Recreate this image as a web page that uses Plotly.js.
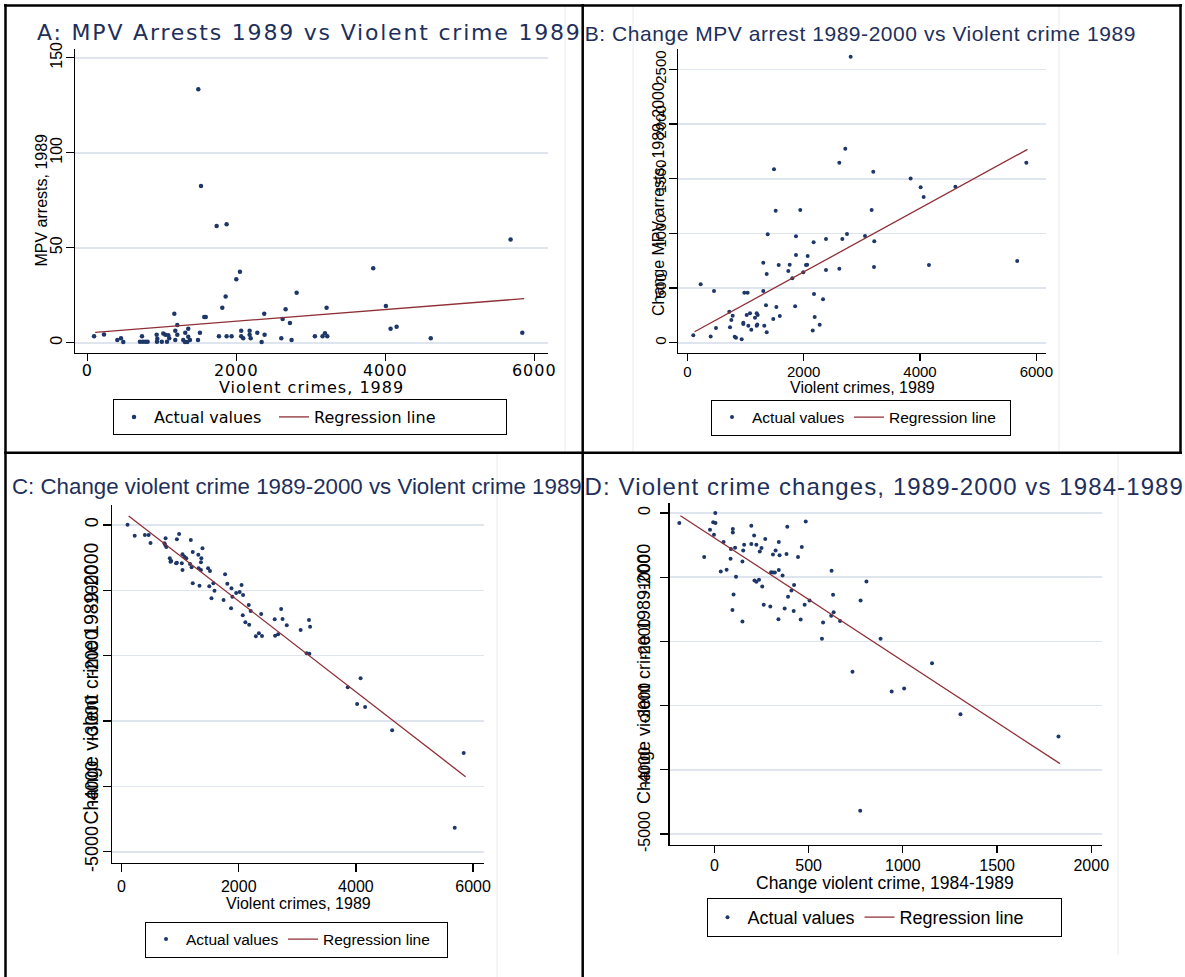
<!DOCTYPE html>
<html><head><meta charset="utf-8">
<script src="https://cdn.plot.ly/plotly-3.0.1.min.js"></script>
<style>
html,body{margin:0;padding:0;background:#fff;}
#chart{width:1185px;height:977px;}
g.annotation[data-index="0"] text{letter-spacing:1.8px;}
g.annotation[data-index="1"] text{letter-spacing:0.55px;}
g.annotation[data-index="3"] text{letter-spacing:1.1px;}
g.annotation[data-index="8"] text{letter-spacing:1px;}
g.xtick text{letter-spacing:1px;}
</style>
</head><body><div id="chart"></div>
<script>
// ---------- Panel A: MPV arrests 1989 vs violent crimes 1989 ----------
const aViolent89 = [1490,1526,1736,1870,3838,2049,2000,2810,1857,1812,3212,4008,1168,2375,1570,1590,2662,2622,2720,1208,1355,4071,4152,91,224,403,452,483,734,707,745,780,810,931,940,935,1000,1070,1020,1047,1087,1100,1181,1181,1208,1288,1311,1342,1378,1315,1355,1486,1512,1767,1870,1937,2066,2066,2093,2179,2179,2193,2282,2340,2380,2604,2742,3055,3158,3190,3221,4610,5682,5839];
const aArrests89 = [133.4,82.5,61.4,62.3,39.2,37.4,33.4,26.3,24.4,18.4,18.4,19.3,15.3,15.3,13.5,13.5,17.6,12.5,10.4,9.3,7.4,7.4,8.4,3.4,4.4,1.4,2.3,0.4,3.4,0.5,0.5,0.5,0.5,4.2,2.1,0.5,0.5,0.5,4.9,4.2,3.9,2.3,6.3,1.4,4.2,1.4,0.4,0.4,1.4,5.3,3.2,1.4,5.3,3.4,3.4,3.4,6.3,3.4,2.3,6.3,4.2,2.3,5.3,0.4,4.2,2.3,1.4,3.4,3.4,5.0,3.4,2.3,54.4,5.3];
const aRegX = [106, 5864];
const aRegY = [5.5, 23.2];

// ---------- Panel B: change MPV arrests 1989-2000 vs violent crimes 1989 ----------
const bViolent89 = [2808,2716,2613,1490,3197,3839,4011,4063,4608,5828,1519,1942,3169,1382,1868,2745,3055,2384,2665,2172,3214,1868,2069,1306,1571,1760,2040,2060,1736,1994,2384,2613,3209,4154,5671,1365,1805,230,459,980,1037,1306,2178,2333,722,780,1021,1078,1193,1164,1210,1353,1531,1854,1590,1478,757,734,493,963,963,1049,1193,1203,1100,1324,1365,2190,2276,2156,103,402,815,837,935];
const bArrestChange = [2615,1774,1646,1586,1564,1503,1421,1332,1426,1646,1207,1213,1213,991,973,994,976,948,948,918,927,802,793,732,711,713,711,713,656,644,665,677,692,711,747,628,589,534,473,457,457,473,445,397,284,247,253,269,269,229,253,342,326,333,244,217,208,141,134,183,171,155,155,168,119,155,95,235,165,113,68,58,55,46,31];
const bRegX = [125, 5848];
const bRegY = [101, 1768];

// ---------- Panel C: change violent crime 1989-2000 vs violent crimes 1989 ----------
const cViolent89 = [102,224,398,462,494,732,764,745,751,944,982,823,848,835,931,944,1028,1040,1073,1105,1040,1169,1182,1215,1195,1215,1310,1362,1355,1381,1355,1316,1477,1509,1330,1497,1567,1586,1535,1767,1805,1876,1869,1741,1891,1956,2016,2048,2074,2069,2113,2171,2178,2204,2293,2344,2383,2397,2614,2621,2672,2724,2748,2820,3057,3199,3218,3160,3206,3861,4080,4021,4157,4619,5840,5687];
const cCrimeChange = [5,-164,-153,-153,-276,-281,-337,-306,-204,-219,-138,-510,-551,-561,-587,-577,-587,-449,-485,-510,-689,-597,-230,-413,-648,-893,-454,-510,-571,-357,-689,-663,-663,-704,-929,-939,-893,-1006,-1123,-755,-898,-969,-1275,-1148,-1097,-1041,-1025,-918,-1071,-1382,-1489,-1224,-1526,-1316,-1704,-1658,-1362,-1699,-1443,-1694,-1673,-1286,-1439,-1535,-1607,-1454,-1556,-1964,-1970,-2485,-2347,-2740,-2786,-3142,-3489,-4633];
const cRegX = [121, 5872];
const cRegY = [138, -3852];

// ---------- Panel D: change violent crime 1989-2000 vs 1984-1989 ----------
const dChange8489 = [-186,5,-6,6,-23,-2,-54,49,65,34,86,88,98,98,110,115,102,96,149,153,158,149,196,196,211,223,213,223,237,241,250,270,254,262,297,301,311,321,311,325,342,346,342,340,362,383,387,391,373,409,423,421,444,464,485,479,458,505,622,630,633,620,667,577,571,807,776,882,733,1155,941,1007,1306,1826,774];
const dChange8900 = [-156,0,-146,-156,-260,-338,-686,-452,-884,-910,-712,-561,-249,-302,-541,-993,-1269,-1512,-755,-583,-494,-1690,-198,-483,-349,-494,-1051,-1071,-1040,-599,-546,-405,-1144,-1430,-1456,-921,-926,-926,-645,-583,-452,-660,-889,-1653,-973,-639,-214,-1305,-1487,-1207,-1123,-1528,-686,-530,-131,-1430,-1659,-1363,-900,-1274,-1544,-1601,-1684,-1705,-1960,-1066,-1363,-1960,-2474,-2339,-2781,-2735,-3134,-3483,-4637];
const dRegX = [-180, 1834];
const dRegY = [-42, -3904];

// ---------- Tick labels ----------
const xTicks6000 = [0, 2000, 4000, 6000];
const xTicks6000Text = ['0', '2000', '4000', '6000'];
const aYTicks = [0, 50, 100, 150];
const aYTickText = ['0', '50', '100', '150'];
const bYTicks = [0, 500, 1000, 1500, 2000, 2500];
const bYTickText = ['0', '500', '1000', '1500', '2000', '2500'];
const cdYTicks = [0, -1000, -2000, -3000, -4000, -5000];
const cdYTickText = ['0', '-1000', '-2000', '-3000', '-4000', '-5000'];
const dXTicks = [0, 500, 1000, 1500, 2000];
const dXTickText = ['0', '500', '1000', '1500', '2000'];

// ---------- Text ----------
const panelTitles = [
  'A: MPV Arrests 1989 vs Violent crime 1989',
  'B: Change MPV arrest 1989-2000 vs Violent crime 1989',
  'C: Change violent crime 1989-2000 vs Violent crime 1989',
  'D: Violent crime changes, 1989-2000 vs 1984-1989'
];
const xTitles = ['Violent crimes, 1989', 'Violent crimes, 1989', 'Violent crimes, 1989', 'Change violent crime, 1984-1989'];
const yTitles = ['MPV arrests, 1989', 'Change MPV arrests, 1989-2000', 'Change violent crime 1989-2000', 'Change violent crime 1989-2000'];
const seriesNames = ['Actual values', 'Regression line'];

// ---------- Styling ----------
const W = 1185, H = 977;
const NAVY = '#1d3768';
const MAROON = '#8f2f36';
const TITLE = '#1e2f5c';
const GRID = '#dfe5ef';
const ARIAL = 'Liberation Sans, Arial, sans-serif';
const WIDE = 'DejaVu Sans, Verdana, sans-serif';
const px = v => v / W;
const py = v => 1 - v / H;

function xAxis(l, r, range, anchor, vals, text, fam, size, tlen, stand) {
  return {
    domain: [px(l), px(r)], range: range, anchor: anchor,
    showline: true, linecolor: '#000', linewidth: 1.3,
    ticks: 'outside', ticklen: tlen, tickwidth: 1.3, tickcolor: '#000',
    tickmode: 'array', tickvals: vals, ticktext: text,
    tickfont: {family: fam, size: size, color: '#000'}, ticklabelstandoff: stand,
    showgrid: false, zeroline: false
  };
}
function yAxis(t, b, range, anchor, vals, text, fam, size, stand) {
  return {
    domain: [py(b), py(t)], range: range, anchor: anchor,
    showline: true, linecolor: '#000', linewidth: 1.3,
    ticks: 'outside', ticklen: 8, tickwidth: 1.3, tickcolor: '#000',
    tickmode: 'array', tickvals: vals, ticktext: text, tickangle: -90,
    tickfont: {family: fam, size: size, color: '#000'},
    ticklabelstandoff: stand,
    showgrid: true, gridcolor: GRID, gridwidth: 1.6, zeroline: false
  };
}
function pts(x, y, xa, ya, lg, sz, lw) {
  return {x: x, y: y, type: 'scatter', mode: 'markers', name: seriesNames[0], xaxis: xa, yaxis: ya, legend: lg,
    legendwidth: lw, marker: {size: sz, color: NAVY, line: {width: 0}}, hoverinfo: 'skip'};
}
function reg(x, y, xa, ya, lg, lw) {
  return {x: x, y: y, type: 'scatter', mode: 'lines', name: seriesNames[1], xaxis: xa, yaxis: ya, legend: lg,
    legendwidth: lw, line: {color: MAROON, width: 1.3}, hoverinfo: 'skip'};
}
const data = [
  pts(aViolent89, aArrests89, 'x', 'y', 'legend', 4.5, 115), reg(aRegX, aRegY, 'x', 'y', 'legend', 187),
  pts(bViolent89, bArrestChange, 'x2', 'y2', 'legend2', 4, 92), reg(bRegX, bRegY, 'x2', 'y2', 'legend2', 116),
  pts(cViolent89, cCrimeChange, 'x3', 'y3', 'legend3', 4, 92), reg(cRegX, cRegY, 'x3', 'y3', 'legend3', 119),
  pts(dChange8489, dChange8900, 'x4', 'y4', 'legend4', 4, 107), reg(dRegX, dRegY, 'x4', 'y4', 'legend4', 156)
];

function legendBox(l, t, fam, size) {
  return {x: px(l), y: py(t), xanchor: 'left', yanchor: 'top', orientation: 'h',
    bgcolor: '#fff', bordercolor: '#000', borderwidth: 1, itemwidth: 30,
    font: {family: fam, size: size, color: '#000'}, traceorder: 'normal'};
}
function ttl(i, cx, y, fam, size) {
  return {text: panelTitles[i], xref: 'paper', yref: 'paper', x: px(cx), y: py(y), xanchor: 'center', yanchor: 'middle',
    showarrow: false, font: {family: fam, size: size, color: TITLE}};
}
function ytl(i, x, y, fam, size) {
  return {text: yTitles[i], xref: 'paper', yref: 'paper', x: px(x), y: py(y), xanchor: 'center', yanchor: 'middle',
    textangle: -90, showarrow: false, font: {family: fam, size: size, color: '#000'}};
}
function xtl(i, x, y, fam, size) {
  return {text: xTitles[i], xref: 'paper', yref: 'paper', x: px(x), y: py(y), xanchor: 'center', yanchor: 'middle',
    showarrow: false, font: {family: fam, size: size, color: '#000'}};
}
function hline(x0, x1, y, c, w, layer) {
  return {type: 'line', xref: 'paper', yref: 'paper', x0: px(x0), x1: px(x1), y0: py(y), y1: py(y), layer: layer, line: {color: c, width: w}};
}
function vline(x, y0, y1, c, w, layer) {
  return {type: 'line', xref: 'paper', yref: 'paper', x0: px(x), x1: px(x), y0: py(y0), y1: py(y1), layer: layer, line: {color: c, width: w}};
}

const layout = {
  width: W, height: H, margin: {l: 0, r: 0, t: 0, b: 0},
  paper_bgcolor: '#fff', plot_bgcolor: 'rgba(0,0,0,0)', showlegend: true,
  xaxis: xAxis(75, 548, [-165, 6184], 'y', xTicks6000, xTicks6000Text, WIDE, 16, 7, -5),
  yaxis: yAxis(49, 353, [-5.4, 154.6], 'x', aYTicks, aYTickText, ARIAL, 16, -3),
  xaxis2: xAxis(678.4, 1046, [-153, 6166], 'y2', xTicks6000, xTicks6000Text, ARIAL, 15, 7, -2),
  yaxis2: yAxis(49, 352.7, [-91, 2686], 'x2', bYTicks, bYTickText, ARIAL, 15, -3),
  xaxis3: xAxis(112.2, 483.6, [-160, 6180], 'y3', xTicks6000, xTicks6000Text, ARIAL, 16, 8, 0),
  yaxis3: yAxis(505, 863, [-5173, 306], 'x3', cdYTicks, cdYTickText, ARIAL, 18, -2),
  xaxis4: xAxis(669.5, 1102, [-238, 2057], 'y4', dXTicks, dXTickText, ARIAL, 16, 7, -2),
  yaxis4: yAxis(503.3, 845, [-5171, 151], 'x4', cdYTicks, cdYTickText, ARIAL, 16, 4),
  legend: legendBox(113, 399, WIDE, 16),
  legend2: legendBox(711, 399.5, ARIAL, 15.5),
  legend3: legendBox(145, 921.5, ARIAL, 15.5),
  legend4: legendBox(706.5, 898, ARIAL, 18),
  annotations: [
    ttl(0, 309, 33, WIDE, 22),
    ttl(1, 860.5, 33.5, ARIAL, 21),
    ttl(2, 296.5, 487, ARIAL, 22.3),
    ttl(3, 884, 486.7, ARIAL, 24),
    ytl(0, 40.5, 200, ARIAL, 16),
    ytl(1, 658, 199, ARIAL, 16),
    ytl(2, 90.5, 684, ARIAL, 19.5),
    ytl(3, 644, 674, ARIAL, 18),
    xtl(0, 311, 387, WIDE, 16),
    xtl(1, 862, 387, ARIAL, 16),
    xtl(2, 298, 903.5, ARIAL, 16),
    xtl(3, 885, 882.5, ARIAL, 17.5)
  ],
  shapes: [
    vline(565, 5, 452, '#e6eaf2', 1, 'below'),
    vline(633, 5, 452, '#e6eaf2', 1, 'below'),
    vline(1059, 5, 452, '#e6eaf2', 1, 'below'),
    vline(497, 452, 977, '#e6eaf2', 1, 'below'),
    vline(1118, 452, 955, '#e6eaf2', 1, 'below'),
    hline(4, 1182, 5.5, '#000', 2.5, 'above'),
    vline(5.5, 4, 977, '#000', 2.5, 'above'),
    vline(582.7, 4, 977, '#000', 2.5, 'above'),
    hline(4, 1182, 452.7, '#000', 2.5, 'above'),
    vline(1180.5, 4, 452.7, '#000', 2.5, 'above')
  ]
};

Plotly.newPlot('chart', data, layout, {staticPlot: true, displayModeBar: false});
</script></body></html>
